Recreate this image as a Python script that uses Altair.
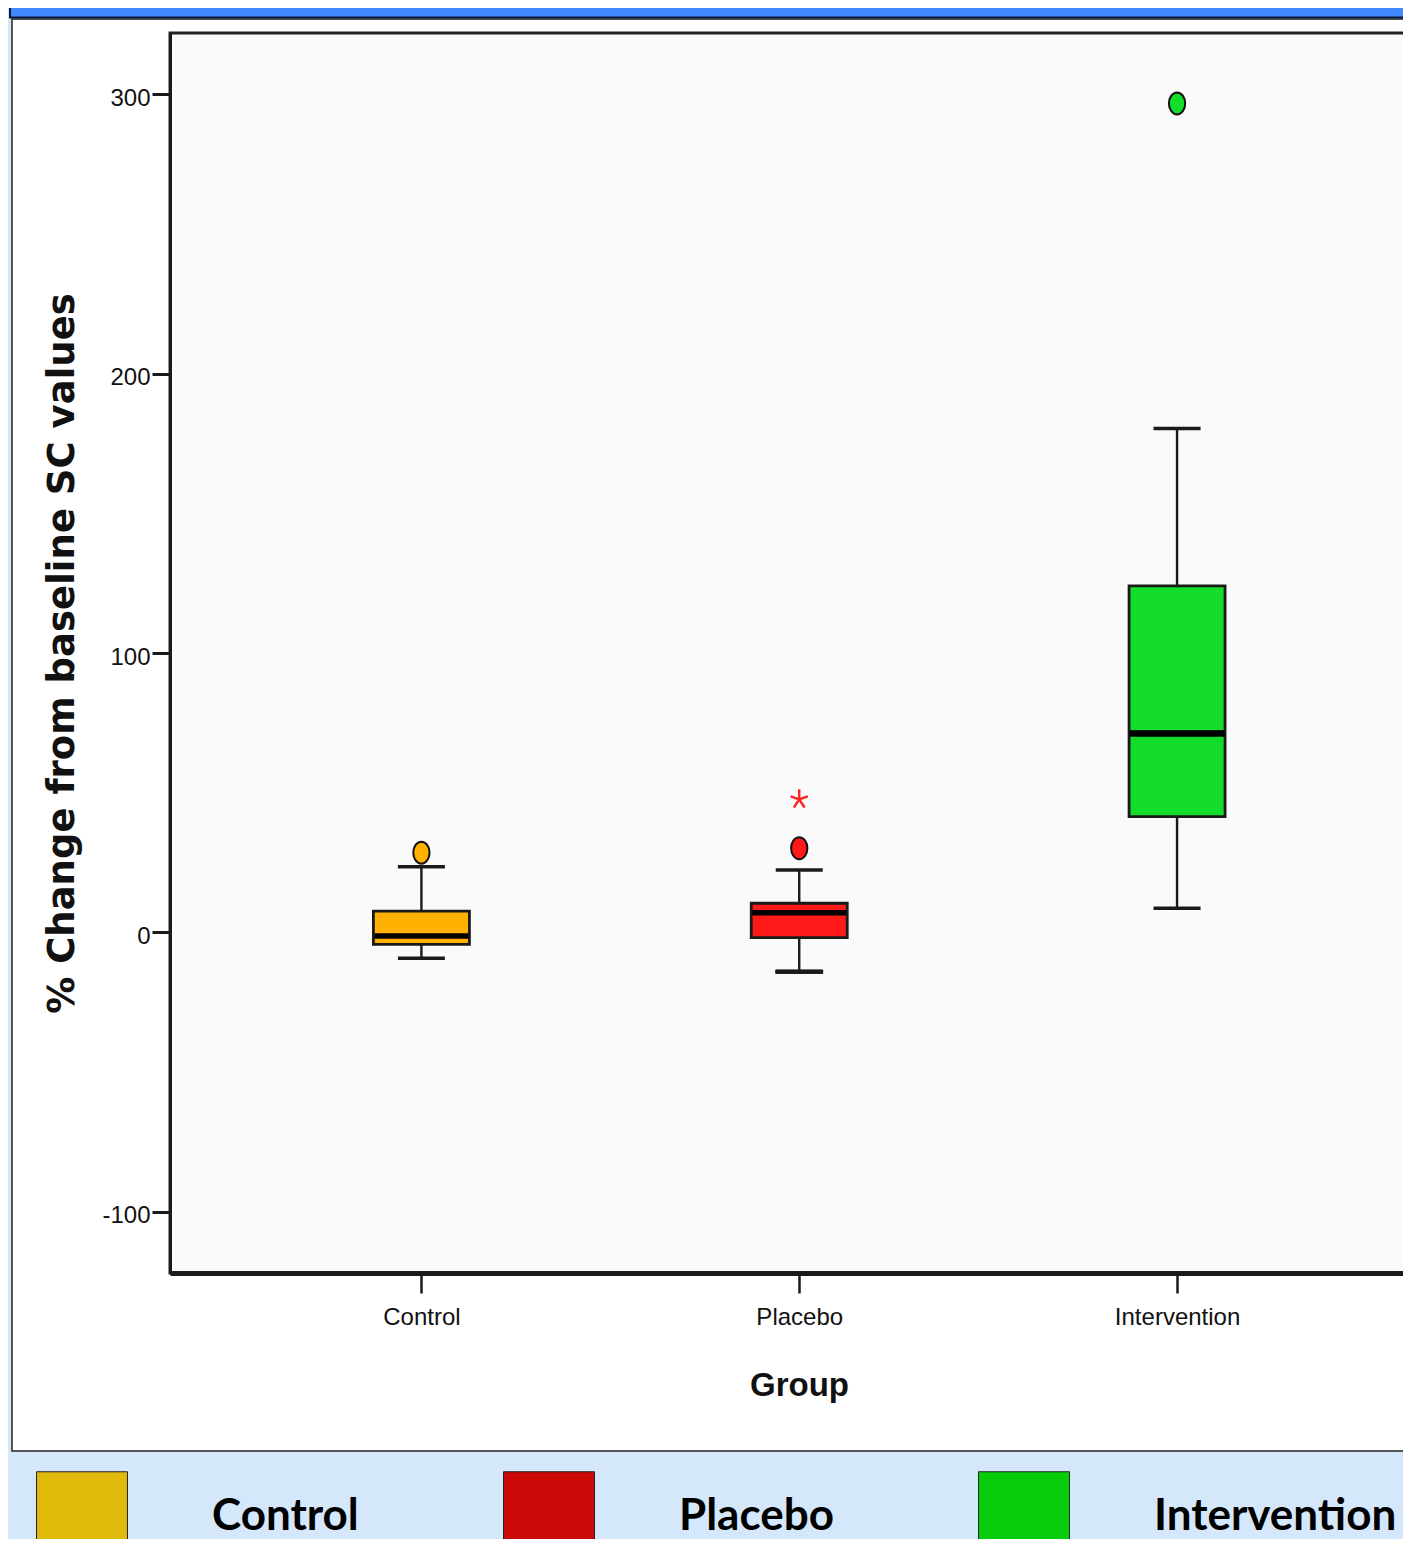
import json
import altair as alt
import pandas as pd

# ---------------- data ----------------
groups = ["Control", "Placebo", "Intervention"]
lower_whisker = [-9.3, -14.1, 8.6]
q1 = [-4.3, -1.9, 41.4]
median = [-1.3, 7.0, 71.2]
q3 = [7.6, 10.4, 124.0]
upper_whisker = [23.5, 22.3, 180.4]

outlier_groups = ["Control", "Placebo", "Intervention"]
outlier_values = [28.5, 30.1, 296.8]

extreme_groups = ["Placebo"]
extreme_values = [47.6]

box_colors = ["#ffb000", "#ff1a1a", "#14dc2a"]
legend_colors = ["#e0b90b", "#cc0909", "#06cc0a"]

y_ticks = [-100, 0, 100, 200, 300]

# ---------------- tables ----------------
box_df = pd.DataFrame({
    "group": groups,
    "idx": list(range(len(groups))),
    "lw": lower_whisker,
    "q1": q1,
    "med": median,
    "q3": q3,
    "uw": upper_whisker,
})
out_df = pd.DataFrame({
    "group": outlier_groups,
    "idx": [groups.index(g) for g in outlier_groups],
    "value": outlier_values,
})
ext_df = pd.DataFrame({
    "group": extreme_groups,
    "idx": [groups.index(g) for g in extreme_groups],
    "value": extreme_values,
})
one = pd.DataFrame({"k": [0]})

W, H = 1233, 1240

xs = alt.Scale(domain=[-0.6654, 2.598], nice=False, zero=False, padding=0)
ys = alt.Scale(domain=[-122, 322], nice=False, zero=False, padding=0)
fill_scale = alt.Scale(domain=groups, range=box_colors)

x_axis = alt.Axis(
    values=[0, 1, 2], labelExpr=json.dumps(groups) + "[datum.value]",
    tickSize=20, tickWidth=2.5, tickColor="#1a1a1a",
    domainWidth=5, domainColor="#1a1a1a",
    labelFont="Liberation Sans", labelFontSize=24, labelColor="#111",
    labelPadding=12, grid=False,
    titleFont="Liberation Sans", titleFontSize=33,
    titleFontWeight="bold", titleColor="#111",
    titleX=629, titleY=112, titleAlign="center", titleBaseline="middle",
    zindex=1,
)
y_axis = alt.Axis(
    values=y_ticks,
    labelExpr="datum.value < 0 ? '-' + abs(datum.value) : '' + datum.value",
    tickSize=18, tickWidth=3, tickColor="#1a1a1a",
    domainWidth=3, domainColor="#1a1a1a",
    labelFont="Liberation Sans", labelFontSize=24, labelColor="#111",
    labelPadding=2, labelOffset=4, grid=False,
    titleFont="DejaVu Sans",
    titleFontSize=37, titleFontWeight="bold", titleColor="#111",
    titleAngle=270, titleX=-108, titleY=620, titleAlign="center",
    titleBaseline="middle", zindex=1,
)
X_TITLE = "Group"
Y_TITLE = "% Change from baseline SC values"


def X():
    return alt.X("idx:Q", scale=xs, axis=x_axis, title=X_TITLE)


def Y(field):
    return alt.Y(field, scale=ys, axis=y_axis, title=Y_TITLE)


# legend source layer (drawn first, hidden under the panel)
legend_layer = alt.Chart(box_df).mark_square(size=4, opacity=1).encode(
    x=X(), y=Y("med:Q"),
    color=alt.Color(
        "group:N",
        scale=alt.Scale(domain=groups, range=legend_colors),
        legend=alt.Legend(
            orient="none", legendX=-134, legendY=1438, direction="horizontal",
            symbolType="square", symbolSize=8281, symbolStrokeColor="#222",
            symbolStrokeWidth=1, symbolOpacity=1,
            labelFont="Lato", labelFontWeight="bold", labelFontSize=44,
            labelColor="black", labelOffset=84, columnPadding=142,
            labelLimit=400, padding=0, title=None,
        ),
    ),
)

# ---------------- decoration layers ----------------
panel = alt.Chart(one).mark_rect(fill="white", stroke="#222", strokeWidth=1.5).encode(
    x=alt.value(-158), x2=alt.value(W + 40), y=alt.value(-14), y2=alt.value(1418)
)
bluebar = alt.Chart(one).mark_rect(fill="#4488ff", stroke="#0b1a3a", strokeWidth=2).encode(
    x=alt.value(-160), x2=alt.value(W + 40), y=alt.value(-40), y2=alt.value(-15.5)
)
plotbg = alt.Chart(one).mark_rect(fill="#fafafa", stroke="#222", strokeWidth=3).encode(
    x=alt.value(0), x2=alt.value(W + 40), y=alt.value(0), y2=alt.value(H)
)

# ---------------- box plot layers ----------------
whisk = alt.Chart(box_df).mark_rule(color="#1a1a1a", strokeWidth=2.4).encode(
    x=X(), y=Y("lw:Q"), y2="uw:Q",
)
boxes = alt.Chart(box_df).mark_bar(size=96, orient="vertical", stroke="#1a1a1a",
                                   strokeWidth=2.8, opacity=1).encode(
    x=X(), y=Y("q1:Q"), y2="q3:Q",
    fill=alt.Fill("group:N", scale=fill_scale, legend=None),
)
meds = alt.Chart(box_df).mark_tick(orient="horizontal", size=94, thickness=5.5,
                                   color="black", opacity=1).encode(
    x=X(), y=Y("med:Q"),
    strokeWidth=alt.condition("datum.group == 'Intervention'", alt.value(1.0), alt.value(0)),
    stroke=alt.value("black"),
)
cap_lo = alt.Chart(box_df).mark_tick(orient="horizontal", size=47, thickness=3.5,
                                     color="#1a1a1a", stroke="#1a1a1a", opacity=1).encode(
    x=X(), y=Y("lw:Q"),
    strokeWidth=alt.condition("datum.group == 'Placebo'", alt.value(1.0), alt.value(0)),
)
cap_hi = alt.Chart(box_df).mark_tick(orient="horizontal", size=47, thickness=3.5,
                                     color="#1a1a1a", opacity=1).encode(
    x=X(), y=Y("uw:Q")
)

ellipse = "M0,-1A0.74,1,0,1,1,0,1A0.74,1,0,1,1,0,-1Z"
outs = alt.Chart(out_df).mark_point(shape=ellipse, filled=True, size=484,
                                    stroke="#111", strokeWidth=2, opacity=1).encode(
    x=X(), y=Y("value:Q"),
    fill=alt.Fill("group:N", scale=fill_scale, legend=None),
)

asterisk = ("M0,0L0,-1.1M0,0L0.951,-0.33M0,0L-0.951,-0.33"
            "M0,0L-0.588,0.9M0,0L0.588,0.9")
stars = alt.Chart(ext_df).mark_point(shape=asterisk, filled=False, size=330,
                                     stroke="#ff2020", strokeWidth=2.4, opacity=1).encode(
    x=X(), y=Y("value:Q")
)

chart = alt.layer(
    legend_layer, panel, bluebar, plotbg, whisk, boxes, meds, cap_lo, cap_hi, outs, stars
).properties(
    width=W, height=H,
    autosize=alt.AutoSizeParams(type="none"),
    padding={"left": 162, "top": 25, "right": 0, "bottom": 266},
    background="#d5e7fb",
).configure_view(strokeWidth=0)

chart.save("out.html", embed_options={"renderer": "svg", "actions": False})
